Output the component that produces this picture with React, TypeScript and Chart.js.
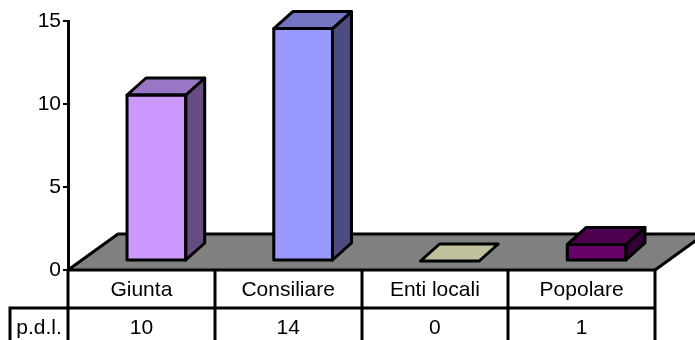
import { useEffect, useRef } from "react";
import { Chart, registerables } from "chart.js";

Chart.register(...registerables);

// Data
const categories = ["Giunta", "Consiliare", "Enti locali", "Popolare"];
const pdlValues = [10, 14, 0, 1];
const seriesName = "p.d.l.";
const yTicks = [0, 5, 10, 15];

// Styles
const FRONT = ["#CC99FF", "#9999FF", "#CCCC99", "#660066"];
const TOP = ["#9977C4", "#7474C2", "#C0C09A", "#4D004D"];
const SIDE = ["#664C80", "#4C4C80", "#80805A", "#330033"];
const FONT = "Arial, 'Liberation Sans', sans-serif";
const FONT_SIZE = 21;
const FLOOR_DEPTH = { dx: 50, dy: -36 };
const BAR_SHIFT = { dx: 15, dy: -9 };
const BAR_DEPTH = { dx: 19, dy: -17 };
const TABLE_ROW1 = 38;
const HEADER_LEFT = 10;
const LINE = 3;

function poly(ctx: CanvasRenderingContext2D, pts: number[][], fill: string) {
  ctx.beginPath();
  ctx.moveTo(pts[0][0], pts[0][1]);
  for (let i = 1; i < pts.length; i++) ctx.lineTo(pts[i][0], pts[i][1]);
  ctx.closePath();
  ctx.fillStyle = fill;
  ctx.fill();
  ctx.stroke();
}

const boxPlugin = {
  id: "box3d",
  beforeDatasetsDraw(chart: any) {
    const { ctx, chartArea: a } = chart;
    ctx.save();
    ctx.lineWidth = LINE;
    ctx.strokeStyle = "#000";
    ctx.lineJoin = "round";
    poly(
      ctx,
      [
        [a.left, a.bottom],
        [a.left + FLOOR_DEPTH.dx, a.bottom + FLOOR_DEPTH.dy],
        [a.right + FLOOR_DEPTH.dx, a.bottom + FLOOR_DEPTH.dy],
        [a.right, a.bottom],
      ],
      "#808080"
    );
    ctx.restore();
    // bars sit inside the floor depth
    ctx.save();
    ctx.translate(BAR_SHIFT.dx, BAR_SHIFT.dy);
  },
  afterDatasetsDraw(chart: any) {
    const ctx: CanvasRenderingContext2D = chart.ctx;
    const meta = chart.getDatasetMeta(0);
    ctx.lineWidth = LINE;
    ctx.strokeStyle = "#000";
    ctx.lineJoin = "round";
    meta.data.forEach((bar: any, i: number) => {
      const { x, y, base, width } = bar.getProps(["x", "y", "base", "width"], true);
      const l = x - width / 2;
      const r = x + width / 2;
      const { dx, dy } = BAR_DEPTH;
      if (base - y > 0.5) {
        poly(ctx, [[r, y], [r + dx, y + dy], [r + dx, base + dy], [r, base]], SIDE[i]);
      }
      poly(ctx, [[l, y], [l + dx, y + dy], [r + dx, y + dy], [r, y]], TOP[i]);
      if (base - y > 0.5) {
        ctx.strokeRect(l, y, r - l, base - y);
      }
    });
    ctx.restore();
  },
  afterDraw(chart: any) {
    const { ctx, chartArea: a, height } = chart;
    const xs = chart.scales.x;
    const n = categories.length;
    const cw = (a.right - a.left) / n;
    const rowY = a.bottom + TABLE_ROW1;
    ctx.save();
    ctx.lineWidth = LINE;
    ctx.strokeStyle = "#000";
    ctx.beginPath();
    // axis continues through the table
    ctx.moveTo(a.left, a.bottom);
    ctx.lineTo(a.left, height);
    for (let k = 1; k <= n; k++) {
      const bx = Math.round(a.left + k * cw);
      ctx.moveTo(bx, a.bottom);
      ctx.lineTo(bx, height);
    }
    ctx.moveTo(HEADER_LEFT - LINE / 2, rowY);
    ctx.lineTo(a.right, rowY);
    ctx.moveTo(HEADER_LEFT, rowY);
    ctx.lineTo(HEADER_LEFT, height);
    ctx.stroke();

    ctx.fillStyle = "#000";
    ctx.font = `${FONT_SIZE}px ${FONT}`;
    ctx.textAlign = "center";
    ctx.textBaseline = "middle";
    categories.forEach((c, i) => {
      const cx = xs.getPixelForValue(i);
      ctx.fillText(c, cx, a.bottom + TABLE_ROW1 / 2 + 1);
      ctx.fillText(String(pdlValues[i]), cx, rowY + 20);
    });
    ctx.fillText(seriesName, (HEADER_LEFT + a.left) / 2, rowY + 20);
    ctx.restore();
  },
};

export default function App() {
  const ref = useRef<HTMLCanvasElement>(null);

  useEffect(() => {
    if (!ref.current) return;
    const chart = new Chart(ref.current, {
      type: "bar",
      data: {
        labels: categories,
        datasets: [
          {
            label: seriesName,
            data: pdlValues,
            backgroundColor: FRONT,
            borderColor: "#000",
            borderWidth: 0,
            barPercentage: 0.4,
            categoryPercentage: 1,
            clip: false as any,
          },
        ],
      },
      options: {
        responsive: false,
        animation: false,
        devicePixelRatio: 1,
        layout: { padding: { top: 21, right: 40, bottom: 70, left: 0 } },
        plugins: { legend: { display: false }, tooltip: { enabled: false } },
        scales: {
          x: { display: false, offset: true },
          y: {
            min: 0,
            max: 15,
            afterBuildTicks: (s: any) => {
              s.ticks = yTicks.map((v) => ({ value: v }));
            },
            afterFit: (s: any) => {
              s.width = 68;
            },
            ticks: { color: "#000", font: { size: FONT_SIZE, family: FONT }, padding: 2 },
            grid: {
              drawOnChartArea: false,
              drawTicks: true,
              tickLength: 5,
              color: "#000",
              lineWidth: 2,
            },
            border: { display: true, color: "#000", width: LINE },
          },
        },
      },
      plugins: [boxPlugin],
    });
    return () => chart.destroy();
  }, []);

  return (
    <div style={{ position: "absolute", left: 0, top: 0, width: 695, height: 340, background: "#fff" }}>
      <canvas ref={ref} width={695} height={340} style={{ display: "block" }} />
    </div>
  );
}
